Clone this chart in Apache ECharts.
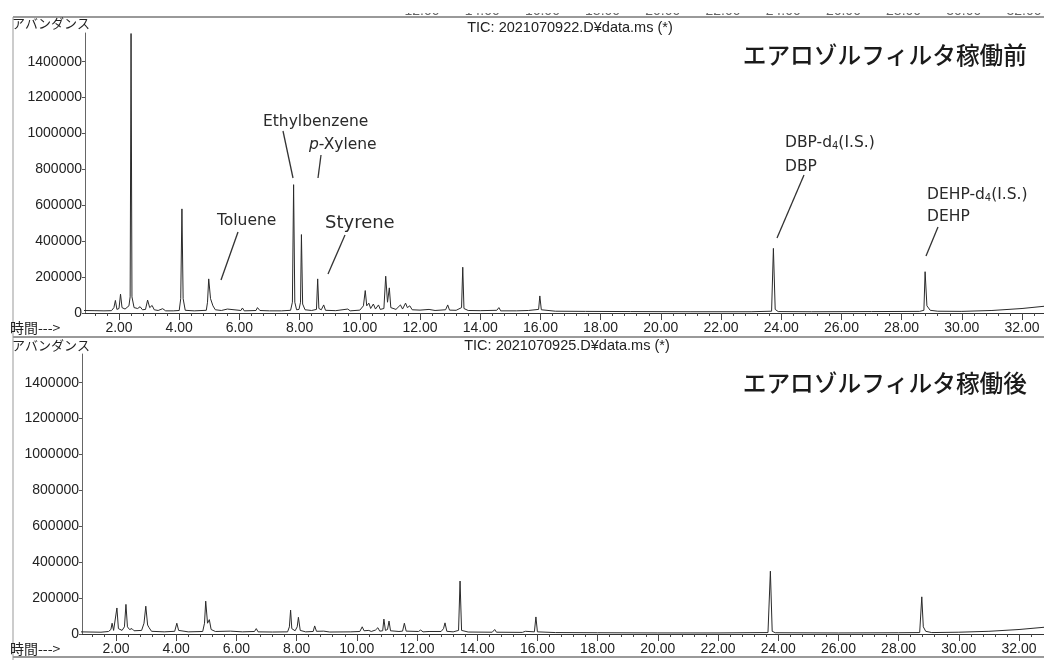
<!DOCTYPE html>
<html>
<head>
<meta charset="utf-8">
<script src="https://cdn.jsdelivr.net/npm/echarts@6/dist/echarts.min.js"></script>
<style>
  html, body { margin: 0; padding: 0; background: #fff; }
  #chart { width: 1044px; height: 660px; }
</style>
</head>
<body>
<div id="chart"></div>
<script>
// TIC chromatograms, retention time (min) vs abundance.
const runBefore = 'TIC: 2021070922.D¥data.ms (*)';
const runAfter = 'TIC: 2021070925.D¥data.ms (*)';
const labelBefore = 'エアロゾルフィルタ稼働前';
const labelAfter = 'エアロゾルフィルタ稼働後';

const timeTicks = [2, 4, 6, 8, 10, 12, 14, 16, 18, 20, 22, 24, 26, 28, 30, 32];
const abundanceTicks = [0, 200000, 400000, 600000, 800000, 1000000, 1200000, 1400000];
// labels of the preceding page strip, only their lower edge is on this sheet
const carryOverTicks = [12, 14, 16, 18, 20, 22, 24, 26, 28, 30, 32];

// Before the aerosol filter was switched on
const traceBefore = [
  [0.80, 14000], [1.20, 13000], [1.50, 12000], [1.75, 13000], [1.83, 30000], [1.88, 70000],
  [1.93, 20000], [2.00, 25000], [2.05, 105000], [2.10, 30000], [2.20, 22000], [2.33, 40000],
  [2.37, 90000], [2.40, 1557000], [2.43, 90000], [2.50, 30000], [2.62, 25000], [2.70, 35000],
  [2.78, 18000], [2.88, 20000], [2.95, 72000], [3.02, 30000], [3.10, 42000], [3.17, 18000],
  [3.30, 14000], [3.45, 24000], [3.55, 12000], [3.80, 12000], [4.00, 14000], [4.05, 80000],
  [4.09, 580000], [4.13, 80000], [4.20, 15000], [4.50, 12000], [4.90, 15000], [4.94, 60000],
  [4.98, 190000], [5.04, 80000], [5.08, 90000], [5.12, 40000], [5.20, 18000], [5.40, 14000],
  [5.60, 22000], [5.66, 14000], [6.05, 14000], [6.10, 28000], [6.16, 12000], [6.55, 14000],
  [6.60, 30000], [6.68, 14000], [7.00, 12000], [7.40, 12000], [7.70, 15000], [7.76, 60000],
  [7.80, 715000], [7.84, 60000], [7.90, 18000], [7.98, 20000], [8.03, 60000], [8.06, 437000],
  [8.10, 50000], [8.18, 18000], [8.40, 14000], [8.56, 20000], [8.60, 190000], [8.64, 25000],
  [8.72, 18000], [8.80, 45000], [8.86, 15000], [9.20, 13000], [9.60, 22000], [9.68, 12000],
  [10.00, 16000], [10.12, 40000], [10.18, 125000], [10.23, 40000], [10.30, 55000], [10.36, 25000],
  [10.45, 50000], [10.52, 22000], [10.62, 45000], [10.68, 20000], [10.80, 25000], [10.86, 205000],
  [10.92, 60000], [10.98, 140000], [11.03, 30000], [11.20, 20000], [11.35, 45000], [11.42, 22000],
  [11.52, 55000], [11.58, 30000], [11.66, 40000], [11.74, 18000], [12.00, 16000], [12.30, 20000],
  [12.50, 14000], [12.85, 18000], [12.92, 45000], [12.98, 16000], [13.20, 15000], [13.38, 30000],
  [13.42, 255000], [13.46, 25000], [13.60, 14000], [14.00, 13000], [14.55, 15000], [14.62, 30000],
  [14.68, 12000], [15.20, 12000], [15.60, 14000], [15.94, 20000], [15.98, 95000], [16.03, 18000],
  [16.50, 10000], [17.50, 9000], [19.00, 8000], [21.00, 7000], [23.00, 7000], [23.68, 10000],
  [23.74, 360000], [23.80, 20000], [23.90, 8000], [25.00, 7000], [27.00, 8000], [28.60, 9000],
  [28.74, 15000], [28.78, 230000], [28.84, 40000], [28.95, 15000], [29.20, 10000], [30.00, 9000],
  [31.00, 14000], [32.00, 25000], [33.00, 42000]
];

// After the aerosol filter was switched on
const traceAfter = [
  [0.80, 12000], [1.50, 10000], [1.75, 14000], [1.83, 25000], [1.87, 60000], [1.92, 20000],
  [1.98, 30000], [2.03, 145000], [2.08, 30000], [2.20, 20000], [2.28, 40000], [2.33, 165000],
  [2.38, 40000], [2.45, 25000], [2.53, 30000], [2.60, 18000], [2.85, 20000], [2.93, 60000],
  [2.99, 155000], [3.05, 50000], [3.10, 35000], [3.18, 15000], [3.60, 12000], [3.95, 15000],
  [4.02, 60000], [4.08, 20000], [4.40, 12000], [4.88, 14000], [4.94, 60000], [4.98, 183000],
  [5.04, 60000], [5.10, 80000], [5.16, 25000], [5.30, 14000], [5.80, 16000], [6.20, 12000],
  [6.60, 14000], [6.66, 30000], [6.72, 12000], [7.20, 11000], [7.70, 12000], [7.76, 40000],
  [7.80, 133000], [7.84, 30000], [7.95, 18000], [8.02, 40000], [8.06, 93000], [8.12, 20000],
  [8.30, 12000], [8.55, 14000], [8.60, 45000], [8.66, 15000], [8.90, 16000], [9.10, 11000],
  [9.80, 12000], [10.10, 14000], [10.18, 40000], [10.24, 18000], [10.40, 20000], [10.48, 14000],
  [10.62, 22000], [10.70, 35000], [10.76, 16000], [10.86, 18000], [10.90, 83000], [10.95, 20000],
  [11.02, 25000], [11.07, 72000], [11.12, 18000], [11.40, 14000], [11.46, 22000], [11.52, 16000],
  [11.58, 60000], [11.64, 16000], [12.05, 14000], [12.12, 22000], [12.20, 12000], [12.40, 14000],
  [12.80, 14000], [12.88, 30000], [12.93, 62000], [12.99, 15000], [13.20, 12000], [13.38, 20000],
  [13.43, 295000], [13.48, 20000], [13.70, 11000], [14.50, 10000], [14.58, 25000], [14.64, 10000],
  [15.50, 9000], [15.60, 15000], [15.66, 9000], [15.90, 12000], [15.95, 95000], [16.00, 12000],
  [16.60, 8000], [18.00, 7000], [20.00, 6000], [22.00, 6000], [23.66, 8000], [23.74, 350000],
  [23.80, 15000], [23.90, 7000], [26.00, 6000], [28.00, 7000], [28.70, 8000], [28.77, 207000],
  [28.82, 40000], [28.90, 15000], [29.10, 8000], [30.00, 10000], [31.00, 15000], [32.00, 25000],
  [33.00, 40000]
];

const TIME_MIN = 0.87;
const TOP_TIME_MAX = 32.73;
const BOTTOM_TIME_MAX = 32.83;
const ABUNDANCE_MAX = 1560000;

// minor time ticks every 0.4 min between the labelled ones
const minorTimeTicks = [];
for (let i = 3; i <= 81; i++) {
  const v = +(i * 0.4).toFixed(1);
  if (Math.abs(v / 2 - Math.round(v / 2)) > 1e-6) minorTimeTicks.push(v);
}

const numFont = "'Liberation Sans', Arial, sans-serif";
const jpFont = "'Noto Sans CJK JP', sans-serif";
const annFont = "'DejaVu Sans', Verdana, sans-serif";
const ink = '#222';

function timeAxis(grid, max, major) {
  return {
    type: 'value', gridIndex: grid, min: TIME_MIN, max: max, position: 'bottom',
    axisLine: { show: major, onZero: false, lineStyle: { color: '#333', width: 1 } },
    axisTick: { show: true, customValues: major ? timeTicks : minorTimeTicks,
      length: major ? 7 : 3, lineStyle: { color: '#444', width: 1 } },
    axisLabel: { show: major, customValues: timeTicks, margin: 8,
      formatter: v => v.toFixed(2), color: ink, fontSize: 14, fontFamily: numFont },
    splitLine: { show: false }
  };
}

function abundanceAxis(grid) {
  return {
    type: 'value', gridIndex: grid, min: 0, max: ABUNDANCE_MAX,
    axisLine: { show: true, lineStyle: { color: '#666', width: 1 } },
    axisTick: { show: true, customValues: abundanceTicks, length: 3, lineStyle: { color: '#555' } },
    axisLabel: { customValues: abundanceTicks, margin: 3, color: ink, fontSize: 14, fontFamily: numFont,
      formatter: v => String(v) },
    splitLine: { show: false }
  };
}

function trace(xi, yi, data) {
  return {
    type: 'line', xAxisIndex: xi, yAxisIndex: yi, data: data, showSymbol: false,
    clip: true, silent: true, animation: false,
    lineStyle: { color: '#2a2a2a', width: 1 }
  };
}

function text(x, y, str, size, extra, z) {
  return {
    type: 'text', x: x, y: y, z: z || 10,
    style: Object.assign({ text: str, fontSize: size, fontFamily: numFont, fill: ink,
      textVerticalAlign: 'middle', textAlign: 'left' }, extra || {})
  };
}

function hline(y, x1, x2, color, w) {
  return { type: 'line', z: 5, shape: { x1: x1, y1: y, x2: x2, y2: y },
    style: { stroke: color || '#666', lineWidth: w || 1 } };
}

function leader(x1, y1, x2, y2) {
  return { type: 'line', z: 10, shape: { x1: x1, y1: y1, x2: x2, y2: y2 },
    style: { stroke: '#333', lineWidth: 1.3 } };
}

const annStyle = { fontFamily: annFont, fill: '#2a2a2a' };
const subRich = {
  rich: {
    n: { fontSize: 15.5, fontFamily: annFont, fill: '#2a2a2a' },
    s: { fontSize: 10, fontFamily: annFont, fill: '#2a2a2a', padding: [7, 0, 0, 0] }
  }
};

// lower edges of the preceding strip's time labels
const carryOver = carryOverTicks.map(t =>
  text(119 + (t - 2) * 30.1 + 2, 11, t.toFixed(2), 14, { textAlign: 'center', fill: '#666' }, 1));

const graphics = carryOver.concat([
  { type: 'rect', z: 2, shape: { x: 0, y: 0, width: 1044, height: 13 }, style: { fill: '#fff' } },
  { type: 'rect', z: 2, shape: { x: 0, y: 0, width: 400, height: 17 }, style: { fill: '#fff' } },

  // scan frame
  hline(17, 13, 1044, '#777', 1.5),
  hline(337, 13, 1044, '#777', 1.5),
  hline(657, 13, 1044, '#777', 1.5),
  { type: 'line', z: 5, shape: { x1: 13, y1: 17, x2: 13, y2: 660 }, style: { stroke: '#999', lineWidth: 1 } },

  // axis captions
  text(12, 23, 'アバンダンス', 13, { fontFamily: jpFont }),
  text(12, 345, 'アバンダンス', 13, { fontFamily: jpFont }),
  text(10, 328, '時間--->', 14, { fontFamily: jpFont }),
  text(10, 649, '時間--->', 14, { fontFamily: jpFont }),

  // run titles
  text(570, 28, runBefore, 14.5, { textAlign: 'center' }),
  text(567, 346, runAfter, 14.5, { textAlign: 'center' }),

  // sample conditions
  text(1027, 55, labelBefore, 23.7, { fontFamily: jpFont, textAlign: 'right', fill: '#1a1a1a', fontWeight: 500 }),
  text(1027, 383, labelAfter, 23.7, { fontFamily: jpFont, textAlign: 'right', fill: '#1a1a1a', fontWeight: 500 }),

  // peak identification
  text(217, 221, 'Toluene', 15.5, annStyle),
  leader(238, 232, 221, 280),
  text(263, 122, 'Ethylbenzene', 15.5, annStyle),
  leader(283, 131, 293, 178),
  text(309, 145, '{i|p}-Xylene', 15.5, Object.assign({}, annStyle, {
    rich: { i: { fontStyle: 'italic', fontSize: 15.5, fontFamily: annFont, fill: '#2a2a2a' } } })),
  leader(321, 155, 318, 178),
  text(325, 223, 'Styrene', 18, annStyle),
  leader(345, 235, 328, 274),
  text(785, 143, '{n|DBP-d}{s|4}{n|(I.S.)}', 15.5, subRich),
  text(785, 167, 'DBP', 15.5, annStyle),
  leader(804, 175, 777, 238),
  text(927, 195, '{n|DEHP-d}{s|4}{n|(I.S.)}', 15.5, subRich),
  text(927, 217, 'DEHP', 15.5, annStyle),
  leader(938, 227, 926, 256)
]);

const chart = echarts.init(document.getElementById('chart'), null, { renderer: 'canvas' });
chart.setOption({
  backgroundColor: '#fff',
  animation: false,
  grid: [
    { left: 85, right: 0, top: 33, height: 280 },
    { left: 82, right: 0, top: 354, height: 280 }
  ],
  xAxis: [
    timeAxis(0, TOP_TIME_MAX, true),
    timeAxis(0, TOP_TIME_MAX, false),
    timeAxis(1, BOTTOM_TIME_MAX, true),
    timeAxis(1, BOTTOM_TIME_MAX, false)
  ],
  yAxis: [abundanceAxis(0), abundanceAxis(1)],
  series: [
    trace(0, 0, traceBefore),
    trace(2, 1, traceAfter)
  ],
  graphic: graphics
});
</script>
</body>
</html>
